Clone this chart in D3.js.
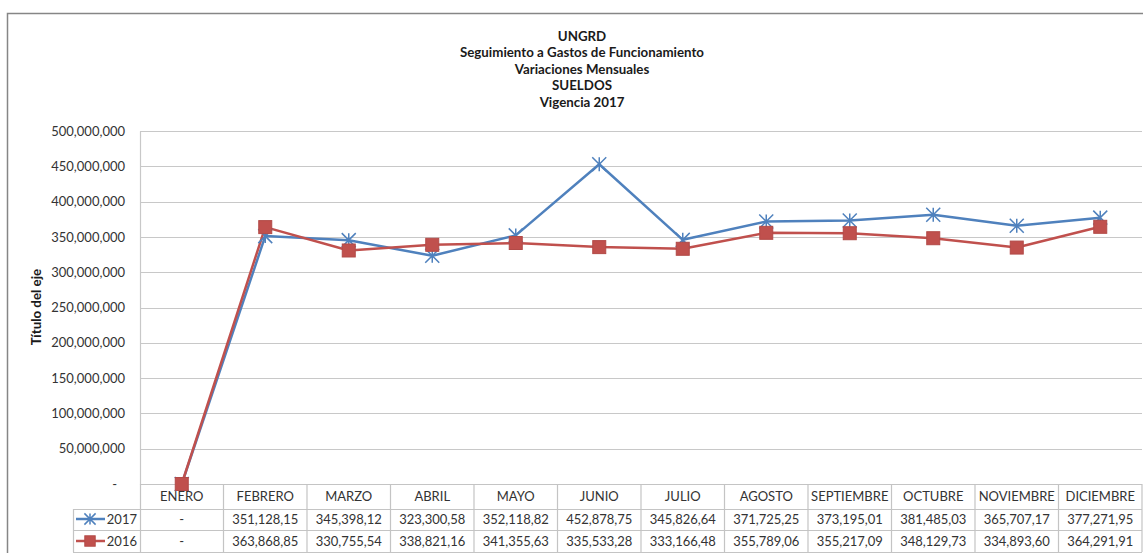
<!DOCTYPE html>
<html>
<head>
<meta charset="utf-8">
<script src="https://cdn.jsdelivr.net/npm/d3@7"></script>
<style>
  body { margin: 0; background: #fff; }
  svg { display: block; font-family: Lato, "Open Sans", sans-serif; }
</style>
</head>
<body>
<svg id="chart" width="1143" height="553"></svg>
<script>
const meses = ["ENERO","FEBRERO","MARZO","ABRIL","MAYO","JUNIO","JULIO","AGOSTO","SEPTIEMBRE","OCTUBRE","NOVIEMBRE","DICIEMBRE"];
const valores2017 = [0, 351128150, 345398120, 323300580, 352118820, 452878750, 345826640, 371725250, 373195010, 381485030, 365707170, 377271950];
const valores2016 = [0, 363868850, 330755540, 338821160, 341355630, 335533280, 333166480, 355789060, 355217090, 348129730, 334893600, 364291910];
const etiquetas2017 = ["-","351,128,15","345,398,12","323,300,58","352,118,82","452,878,75","345,826,64","371,725,25","373,195,01","381,485,03","365,707,17","377,271,95"];
const etiquetas2016 = ["-","363,868,85","330,755,54","338,821,16","341,355,63","335,533,28","333,166,48","355,789,06","355,217,09","348,129,73","334,893,60","364,291,91"];
const titulo = ["UNGRD","Seguimiento a Gastos de Funcionamiento","Variaciones Mensuales","SUELDOS","Vigencia 2017"];
const yTicks = [0, 50e6, 100e6, 150e6, 200e6, 250e6, 300e6, 350e6, 400e6, 450e6, 500e6];

const azul = "#4F81BD", rojo = "#C0504D";
const series = [
  { nombre: "2017", valores: valores2017, etiquetas: etiquetas2017, color: azul, marca: "estrella" },
  { nombre: "2016", valores: valores2016, etiquetas: etiquetas2016, color: rojo, marca: "cuadro" }
];

const svg = d3.select("#chart");
const izq = 140, der = 1142, arriba = 131, abajo = 484;

// marco exterior
svg.append("rect").attr("x", 7.5).attr("y", 13.5).attr("width", 1150).attr("height", 600)
  .attr("fill", "none").attr("stroke", "#868686").attr("stroke-width", 1.5);

// titulo
svg.append("g").selectAll("text").data(titulo).join("text")
  .attr("x", 582).attr("y", (d, i) => 41 + i * 16.4)
  .attr("text-anchor", "middle").attr("font-size", 13.3).attr("font-weight", "bold").attr("fill", "#1a1a1a")
  .text(d => d);

const x = d3.scaleBand().domain(meses).range([izq, der]);
const y = d3.scaleLinear().domain([0, 500e6]).range([abajo, arriba]);

// rejilla
svg.append("g").selectAll("line").data(yTicks.slice(1)).join("line")
  .attr("x1", izq).attr("x2", der).attr("y1", d => Math.round(y(d)) + 0.5).attr("y2", d => Math.round(y(d)) + 0.5)
  .attr("stroke", "#c8c8c8").attr("stroke-width", 1.2);

// eje y
const fmt = d => d === 0 ? "-" : d3.format(",")(d);
const ejeY = svg.append("g").attr("transform", `translate(${izq},0)`)
  .call(d3.axisLeft(y).tickValues(yTicks).tickFormat(fmt).tickSize(0).tickPadding(15));
ejeY.select(".domain").attr("stroke", "#c8c8c8").attr("stroke-width", 1.2);
ejeY.selectAll("text").attr("font-size", 13).attr("fill", "#333").attr("font-family", "Lato, sans-serif");
ejeY.selectAll(".tick").filter(d => d === 0).select("text").attr("dx", -8);

svg.append("text").attr("transform", "translate(41,307) rotate(-90)")
  .attr("text-anchor", "middle").attr("font-size", 13.3).attr("font-weight", "bold").attr("fill", "#1a1a1a")
  .text("Título del eje");

// tabla de datos
const tabla = svg.append("g");
const gris = "#c4c4c4";
tabla.selectAll("line.h").data([509, 530, 552]).join("line")
  .attr("x1", 73).attr("x2", der).attr("y1", d => d + 0.5).attr("y2", d => d + 0.5)
  .attr("stroke", gris).attr("stroke-width", 1.2);
tabla.append("line").attr("x1", izq).attr("x2", der).attr("y1", abajo + 0.5).attr("y2", abajo + 0.5)
  .attr("stroke", gris).attr("stroke-width", 1.2);
tabla.selectAll("line.v").data(meses).join("line")
  .attr("x1", d => x(d) + x.bandwidth()).attr("x2", d => x(d) + x.bandwidth())
  .attr("y1", abajo).attr("y2", 552).attr("stroke", gris).attr("stroke-width", 1.2);
tabla.append("line").attr("x1", izq + 0.5).attr("x2", izq + 0.5).attr("y1", abajo).attr("y2", 552).attr("stroke", gris).attr("stroke-width", 1.2);
tabla.append("line").attr("x1", 73.5).attr("x2", 73.5).attr("y1", 509).attr("y2", 552).attr("stroke", gris).attr("stroke-width", 1.2);

tabla.selectAll("text.mes").data(meses).join("text")
  .attr("x", d => x(d) + x.bandwidth() / 2).attr("y", 501)
  .attr("text-anchor", "middle").attr("font-size", 13).attr("fill", "#333").text(d => d);

function dibujarMarca(g, tipo, cx, cy, color, esc) {
  if (tipo === "cuadro") {
    const h = 6.5 * esc;
    g.append("rect").attr("x", cx - h).attr("y", cy - h).attr("width", 2 * h).attr("height", 2 * h)
      .attr("fill", color).attr("stroke", "#b24a47").attr("stroke-width", 1);
  } else {
    const r = 7 * esc;
    const p = `M${cx - r},${cy - r}L${cx + r},${cy + r}M${cx - r},${cy + r}L${cx + r},${cy - r}M${cx},${cy - r}L${cx},${cy + r}`;
    g.append("path").attr("d", p).attr("stroke", color).attr("stroke-width", 1.5).attr("fill", "none");
  }
}

series.forEach((s, k) => {
  const ty = k === 0 ? 524 : 546;
  tabla.append("g").selectAll("text").data(s.etiquetas).join("text")
    .attr("x", (d, i) => x(meses[i]) + x.bandwidth() / 2).attr("y", ty)
    .attr("text-anchor", "middle").attr("font-size", 13).attr("fill", "#333").text(d => d);
  const ly = k === 0 ? 519 : 541;
  tabla.append("line").attr("x1", 76).attr("x2", 105).attr("y1", ly).attr("y2", ly)
    .attr("stroke", s.color).attr("stroke-width", 2.5);
  dibujarMarca(tabla, s.marca, 90, ly, s.color, 0.8);
  tabla.append("text").attr("x", 137).attr("y", ty).attr("text-anchor", "end")
    .attr("font-size", 13).attr("fill", "#333").text(s.nombre);
});

// lineas
const linea = d3.line().x((d, i) => x(meses[i]) + x.bandwidth() / 2).y(d => y(d));
series.forEach(s => {
  svg.append("path").datum(s.valores).attr("d", linea)
    .attr("fill", "none").attr("stroke", s.color).attr("stroke-width", 2.5).attr("stroke-linejoin", "round");
});
series.forEach(s => {
  const gm = svg.append("g");
  s.valores.forEach((v, i) => dibujarMarca(gm, s.marca, x(meses[i]) + x.bandwidth() / 2, y(v), s.color, 1));
});
</script>
</body>
</html>
